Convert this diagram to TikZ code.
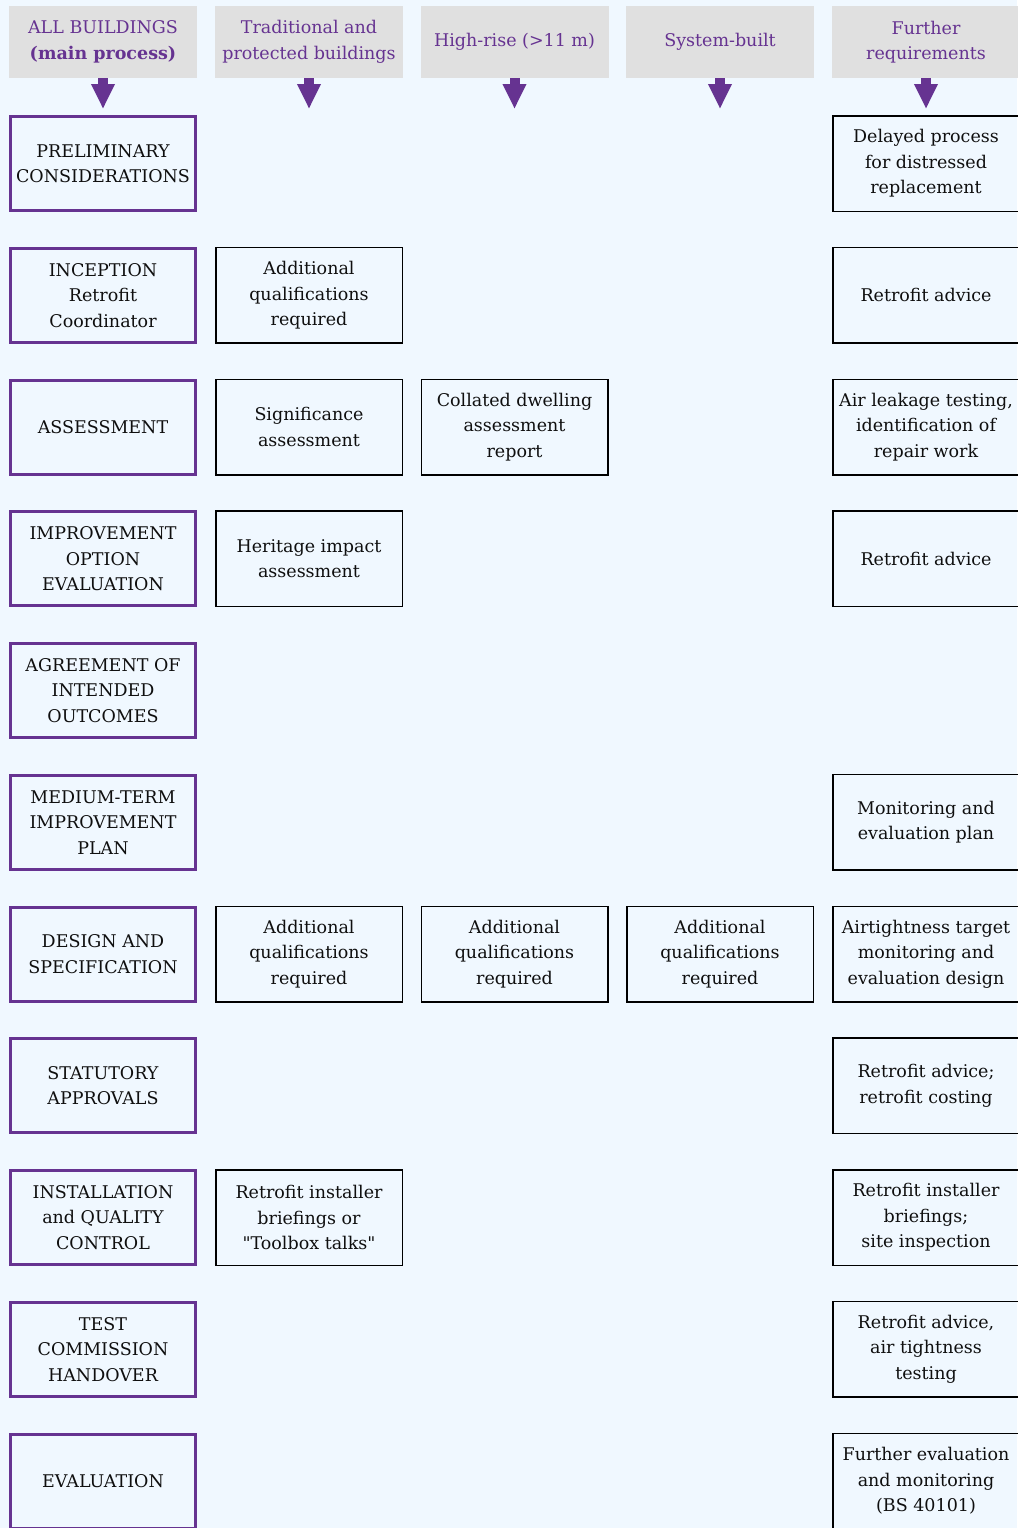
\documentclass[tikz,border=0pt]{standalone}
\usepackage{fontspec}
\setmainfont{DejaVu Serif}[Ligatures=TeXOff]
\usetikzlibrary{arrows.meta}
\definecolor{bgblue}{RGB}{240,248,255}
\definecolor{headgray}{RGB}{224,224,224}
\definecolor{stagepurple}{RGB}{102,51,145}
\definecolor{textblack}{RGB}{15,15,15}
\begin{document}
\begin{tikzpicture}[x=1pt,y=-1pt,
  every node/.style={font=\fontsize{17.5}{25.5}\selectfont,align=center,inner sep=0pt,text=textblack},
  head/.style={fill=headgray,text=stagepurple,minimum width=188pt,minimum height=72pt},
  stage/.style={draw=stagepurple,line width=3pt,minimum width=185pt,minimum height=94pt},
  extra/.style={draw=black,line width=1.5pt,minimum width=186.5pt,minimum height=95.5pt},
  down/.style={draw=stagepurple,line width=10pt,-{Triangle[width=22pt,length=25pt]}}]
  \fill[bgblue] (0,0) rectangle (1017,1528);
  \useasboundingbox (0,0) rectangle (1017,1528);
  % column headers
  \node[head] (hall) at (103,42) {ALL BUILDINGS\\\textbf{(main process)}};
  \node[head] (htrad) at (309,42) {Traditional and\\protected buildings};
  \node[head] (hrise) at (514.5,42) {High-rise (>11 m)};
  \node[head] (hsys) at (720,42) {System-built};
  \node[head] (hfur) at (926,42) {Further\\requirements};
  \coordinate (tall) at (103,109);
  \coordinate (ttrad) at (309,109);
  \coordinate (trise) at (514.5,109);
  \coordinate (tsys) at (720,109);
  \coordinate (tfur) at (926,109);
  \draw[down] (hall) -- (tall);
  \draw[down] (htrad) -- (ttrad);
  \draw[down] (hrise) -- (trise);
  \draw[down] (hsys) -- (tsys);
  \draw[down] (hfur) -- (tfur);
  % main process
  \node[stage] (prelim) at (103,163.5) {PRELIMINARY\\CONSIDERATIONS};
  \node[stage] (incep) at (103,295.25) {INCEPTION\\Retrofit\\Coordinator};
  \node[stage] (assess) at (103,427) {ASSESSMENT};
  \node[stage] (option) at (103,558.75) {IMPROVEMENT\\OPTION\\EVALUATION};
  \node[stage] (agree) at (103,690.5) {AGREEMENT OF\\INTENDED\\OUTCOMES};
  \node[stage] (plan) at (103,822.25) {MEDIUM-TERM\\IMPROVEMENT\\PLAN};
  \node[stage] (design) at (103,954) {DESIGN AND\\SPECIFICATION};
  \node[stage] (statut) at (103,1085.75) {STATUTORY\\APPROVALS};
  \node[stage] (install) at (103,1217.5) {INSTALLATION\\and QUALITY\\CONTROL};
  \node[stage] (test) at (103,1349.25) {TEST\\COMMISSION\\HANDOVER};
  \node[stage] (evalu) at (103,1481) {EVALUATION};
  % traditional and protected
  \node[extra] (tradqual) at (309,295.25) {Additional\\qualifications\\required};
  \node[extra] (tradsig) at (309,427) {Significance\\assessment};
  \node[extra] (tradher) at (309,558.75) {Heritage impact\\assessment};
  \node[extra] (tradqual2) at (309,954) {Additional\\qualifications\\required};
  \node[extra] (tradbrief) at (309,1217.5) {Retrofit installer\\briefings or\\"Toolbox talks"};
  % high-rise
  \node[extra] (risecoll) at (514.5,427) {Collated dwelling\\assessment\\report};
  \node[extra] (risequal) at (514.5,954) {Additional\\qualifications\\required};
  % system-built
  \node[extra] (sysqual) at (720,954) {Additional\\qualifications\\required};
  % further requirements
  \node[extra] (furdelay) at (926,163.5) {Delayed process\\for distressed\\replacement};
  \node[extra] (furadv) at (926,295.25) {Retrofit advice};
  \node[extra] (furair) at (926,427) {Air leakage testing,\\identification of\\repair work};
  \node[extra] (furadv2) at (926,558.75) {Retrofit advice};
  \node[extra] (furmon) at (926,822.25) {Monitoring and\\evaluation plan};
  \node[extra] (furtarget) at (926,954) {Airtightness target\\monitoring and\\evaluation design};
  \node[extra] (furcost) at (926,1085.75) {Retrofit advice;\\retrofit costing};
  \node[extra] (furbrief) at (926,1217.5) {Retrofit installer\\briefings;\\site inspection};
  \node[extra] (furtest) at (926,1349.25) {Retrofit advice,\\air tightness\\testing};
  \node[extra] (furfurther) at (926,1481) {Further evaluation\\and monitoring\\(BS 40101)};
\end{tikzpicture}
\end{document}
